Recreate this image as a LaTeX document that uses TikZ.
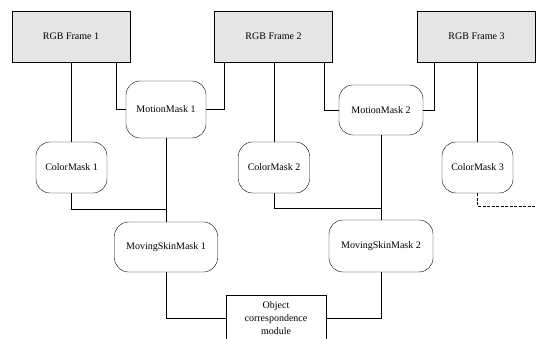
\documentclass[tikz,border=0pt]{standalone}
\usepackage{fontspec}
\setmainfont{Liberation Serif}
\usetikzlibrary{positioning, calc}

\begin{document}
\begin{tikzpicture}[
  x=1pt, y=-1pt, font=\fontsize{10}{12}\selectfont,
  frame/.style={draw, fill=gray!20, minimum width=118pt, minimum height=51pt,
                inner sep=0pt},
  mask/.style={draw, fill=white, rounded corners=14pt, minimum height=51pt,
               inner sep=0pt},
  link/.style={draw, line width=0.7pt},
]
\useasboundingbox (0,0) rectangle (536,339);
\clip (0,0) rectangle (536,339);

% RGB frames
\foreach \i/\x in {1/71,2/273.5,3/476.5} {
  \node[frame] (f\i) at (\x,36.5) {RGB Frame \i};
}

% Motion masks
\node[mask, minimum width=80pt, minimum height=57pt] (mm1) at (166,109.5) {MotionMask 1};
\node[mask, minimum width=84pt, minimum height=50pt] (mm2) at (381,110) {MotionMask 2};

% Color masks
\foreach \i/\x in {1/71.5,2/274,3/477.5} {
  \node[mask, minimum width=71pt] (cm\i) at (\x,167.5) {ColorMask \i};
}

% Moving skin masks
\node[mask, minimum width=103pt, minimum height=50pt] (ms1) at (166,247) {MovingSkinMask 1};
\node[mask, minimum width=104pt, minimum height=52pt] (ms2) at (381,246) {MovingSkinMask 2};

% Object correspondence
\node[draw, fill=white, minimum width=100pt, minimum height=46pt, inner sep=0pt,
      align=center, font=\fontsize{10}{13}\selectfont] (obj) at (276,318)
  {Object\\correspondence\\module};

% Frames -> masks
\draw[link] ($(f1.south east)+(-14,0)$) |- (mm1.west);
\draw[link] ($(f2.south west)+(10,0)$) |- (mm1.east);
\draw[link] ($(f2.south east)+(-8,0)$) |- (mm2.west);
\draw[link] ($(f3.south west)+(17,0)$) |- (mm2.east);
\foreach \i in {1,2,3} {
  \draw[link] (f\i.south -| cm\i.north) -- (cm\i.north);
}

% Masks -> moving skin masks
\coordinate (j1) at (166,209);
\coordinate (j2) at (381,208);
\coordinate (out3) at (536,206);
\draw[link] (mm1.south) -- (ms1.north);
\draw[link] (cm1.south) |- (j1);
\draw[link] (mm2.south) -- (ms2.north);
\draw[link] (cm2.south) |- (j2);
\draw[link, dash pattern=on 3pt off 1.5pt] (cm3.south) |- (out3);

% Moving skin masks -> object correspondence
\draw[link] (ms1.south) |- (obj.west);
\draw[link] (ms2.south) |- (obj.east);

\end{tikzpicture}
\end{document}
